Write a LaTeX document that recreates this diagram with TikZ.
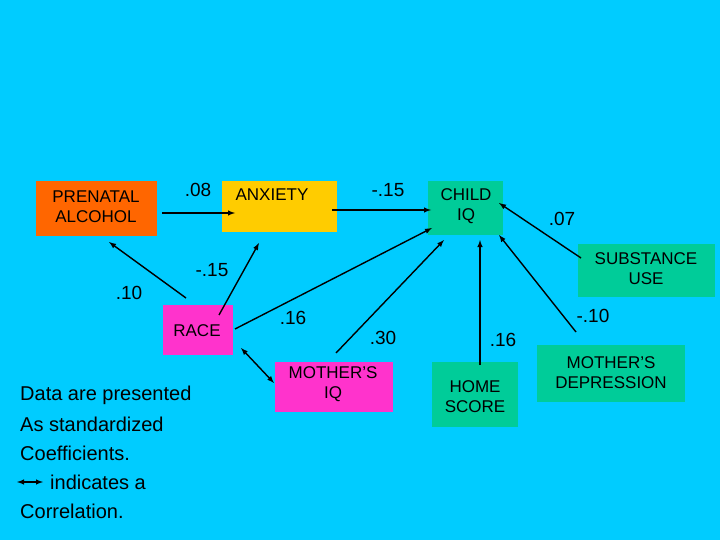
\documentclass[tikz,border=0pt]{standalone}
\usepackage{fontspec}
\setmainfont{Liberation Sans}
\begin{document}
\begin{tikzpicture}[x=1pt,y=-1pt,
  box/.style={inner sep=0pt,align=center,font=\fontsize{17}{20}\selectfont},
  lab/.style={font=\fontsize{19}{22}\selectfont},
  arr/.style={-latex,line width=1.4pt},
  txt/.style={anchor=west,font=\fontsize{20}{22}\selectfont,inner sep=0pt}]
\definecolor{bg}{RGB}{0,204,255}
\definecolor{org}{RGB}{255,102,0}
\definecolor{gold}{RGB}{255,204,0}
\definecolor{grn}{RGB}{0,204,153}
\definecolor{pink}{RGB}{255,51,204}
\fill[bg] (0,0) rectangle (720,540);
\fill[org] (36,181) rectangle (157,236);
\fill[gold] (222,181) rectangle (337,232);
\fill[grn] (428,181) rectangle (503,235);
\fill[grn] (578,244) rectangle (715,297);
\fill[pink] (163,305) rectangle (233,355);
\fill[pink] (275,362) rectangle (393,412);
\fill[grn] (432,362) rectangle (518,427);
\fill[grn] (537,345) rectangle (685,402);
\node[box] (pa) at (96,207) {PRENATAL\\ALCOHOL};
\node[box] (ax) at (272,195) {ANXIETY};
\node[box] (ciq) at (466,206) {CHILD\\IQ};
\node[box] (su) at (646,269) {SUBSTANCE\\USE};
\node[box] (race) at (197,331) {RACE};
\node[box] (miq) at (333,384) {MOTHER'S\\IQ};
\node[box] (home) at (475,397) {HOME\\SCORE};
\node[box] (dep) at (611,373) {MOTHER'S\\DEPRESSION};
\coordinate (a1) at (162,213); \coordinate (a2) at (235,213);
\coordinate (b1) at (332,210); \coordinate (b2) at (431,210);
\coordinate (c1) at (186,298); \coordinate (c2) at (109,242);
\coordinate (d1) at (219,315); \coordinate (d2) at (259,243);
\coordinate (e1) at (235,329); \coordinate (e2) at (432,228);
\coordinate (f1) at (336,353); \coordinate (f2) at (444,240);
\coordinate (g1) at (480,365); \coordinate (g2) at (480,240);
\coordinate (h1) at (576,332); \coordinate (h2) at (499,235);
\coordinate (i1) at (581,258); \coordinate (i2) at (499,203);
\coordinate (j1) at (241,348); \coordinate (j2) at (274,383);
\draw[arr] (a1) -- (a2);
\draw[arr] (b1) -- (b2);
\draw[arr] (c1) -- (c2);
\draw[arr] (d1) -- (d2);
\draw[arr] (e1) -- (e2);
\draw[arr] (f1) -- (f2);
\draw[arr] (g1) -- (g2);
\draw[arr] (h1) -- (h2);
\draw[arr] (i1) -- (i2);
\draw[latex-latex,line width=1.4pt] (j1) -- (j2);
\node[lab] (l1) at (198,190) {.08};
\node[lab] (l2) at (388,190) {-.15};
\node[lab] (l3) at (562,219) {.07};
\node[lab] (l4) at (212,270) {-.15};
\node[lab] (l5) at (129,293) {.10};
\node[lab] (l6) at (293,318) {.16};
\node[lab] (l7) at (383,338) {.30};
\node[lab] (l8) at (503,340) {.16};
\node[lab] (l9) at (593,316) {-.10};
\node[txt] (t1) at (20,395) {Data are presented};
\node[txt] (t2) at (20,424) {As standardized};
\node[txt] (t3) at (20,453) {Coefficients.};
\node[txt] (t4) at (50,482) {indicates a};
\node[txt] (t5) at (20,511) {Correlation.};
\coordinate (k1) at (17,482); \coordinate (k2) at (43,482);
\draw[latex-latex,line width=1.4pt] (k1) -- (k2);
\end{tikzpicture}
\end{document}
